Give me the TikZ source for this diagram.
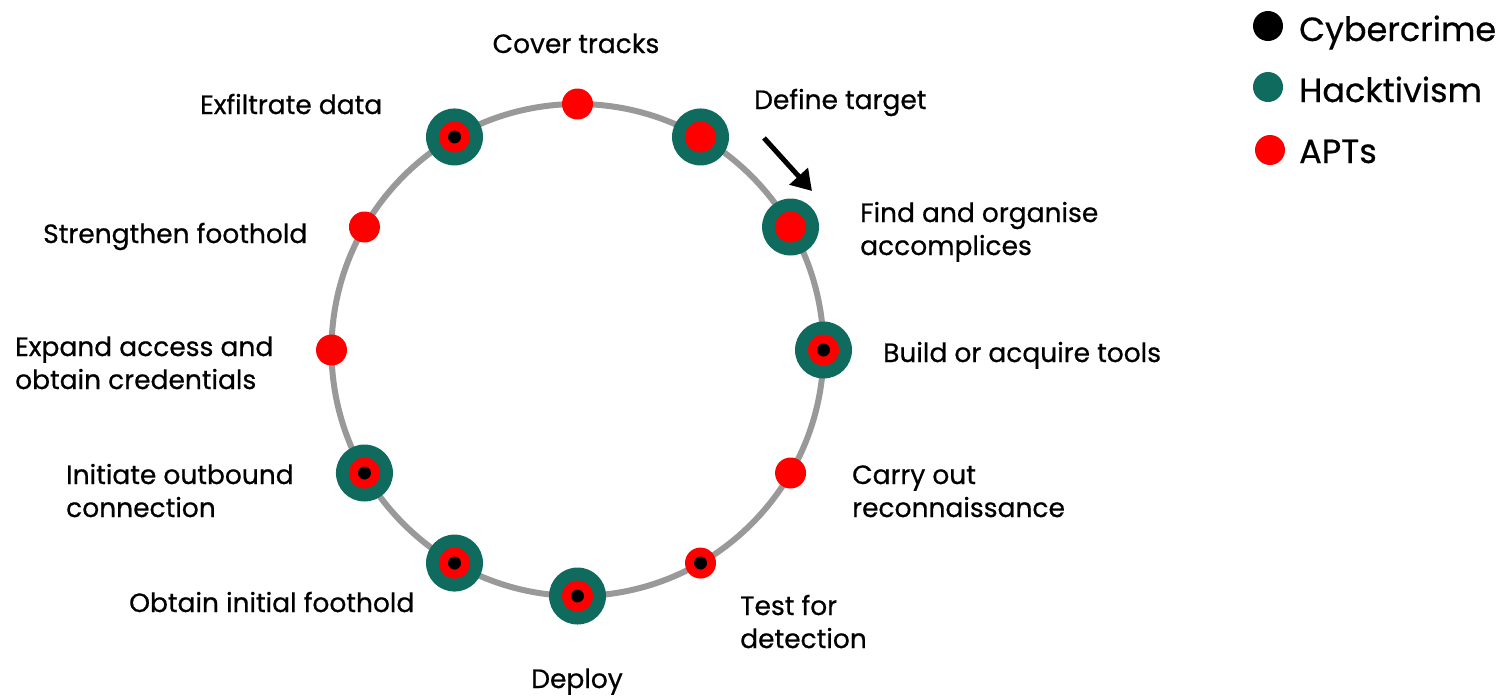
\documentclass[tikz,border=0pt]{standalone}
\usepackage{fontspec}
\setmainfont{Poppins}[FakeBold=0.6]
\usetikzlibrary{arrows.meta,calc}
\definecolor{ringgray}{HTML}{999999}
\definecolor{hackgreen}{HTML}{0F6B5E}
\definecolor{aptred}{HTML}{FF0000}
\tikzset{
  ring/.style={draw=ringgray, line width=6pt},
  hackdot/.style={circle, fill=hackgreen, inner sep=0pt, minimum size=57pt},
  aptdot/.style={circle, fill=aptred, inner sep=0pt, minimum size=31pt},
  crimedot/.style={circle, fill=black, inner sep=0pt, minimum size=13pt},
  legenddot/.style={circle, inner sep=0pt, minimum size=30pt},
  label/.style={inner sep=0pt, anchor=base west, align=left,
    font=\fontsize{26.5}{33}\selectfont},
  legendtext/.style={inner sep=0pt, anchor=base west,
    font=\fontsize{33.5}{40}\selectfont},
  pointer/.style={line width=5pt, -{Triangle[length=20pt, width=24pt]}}
}
\begin{document}
\begin{tikzpicture}[x=1pt, y=-1pt]
\useasboundingbox (0,0) rectangle (1503,697);

% stage ring
\coordinate (c) at (577.5,350);
\draw[ring] (c) circle[radius=246];

% stage positions, every 30 degrees
\foreach \n/\a in {cover/90, define/60, find/30, build/0, recon/-30, test/-60,
                   deploy/-90, initial/-120, outbound/-150, expand/180,
                   strengthen/150, exfil/120}
  \coordinate (\n) at ($(c)+(\a:246 and -246)$);

% Hacktivism
\foreach \n in {define, find, build, deploy, initial, outbound, exfil}
  \node[hackdot] (h-\n) at (\n) {};
% APTs
\foreach \n in {cover, define, find, build, recon, test, deploy, initial,
                outbound, expand, strengthen, exfil}
  \node[aptdot] (a-\n) at (\n) {};
% Cybercrime
\foreach \n in {build, test, deploy, initial, outbound, exfil}
  \node[crimedot] (k-\n) at (\n) {};

% stage labels (two-line labels sit on the baseline of their last line)
\node[label, anchor=base] (t-cover) at (576,53) {Cover tracks};
\node[label] (t-define) at (754,109) {Define target};
\node[label] (t-find) at (860,255) {Find and organise\\accomplices};
\node[label] (t-build) at (883,362) {Build or acquire tools};
\node[label] (t-recon) at (852,517) {Carry out\\reconnaissance};
\node[label] (t-test) at (740,648) {Test for\\detection};
\node[label, anchor=base] (t-deploy) at (577,688) {Deploy};
\node[label] (t-initial) at (129,612) {Obtain initial foothold};
\node[label] (t-outbound) at (66,517) {Initiate outbound\\connection};
\node[label] (t-expand) at (15,389) {Expand access and\\obtain credentials};
\node[label] (t-strengthen) at (43,243) {Strengthen foothold};
\node[label] (t-exfil) at (200,114) {Exfiltrate data};

% start marker
\coordinate (p-from) at (764,138);
\coordinate (p-to) at (812,191);
\draw[pointer] (p-from) -- (p-to);

% legend
\node[legenddot, fill=black] (l-crime) at (1268,26) {};
\node[legenddot, fill=hackgreen] (l-hack) at (1268,87) {};
\node[legenddot, fill=aptred] (l-apt) at (1270,150) {};
\node[legendtext] (lt-crime) at (1299,41) {Cybercrime};
\node[legendtext] (lt-hack) at (1299,102) {Hacktivism};
\node[legendtext] (lt-apt) at (1299,163) {APTs};
\end{tikzpicture}
\end{document}
